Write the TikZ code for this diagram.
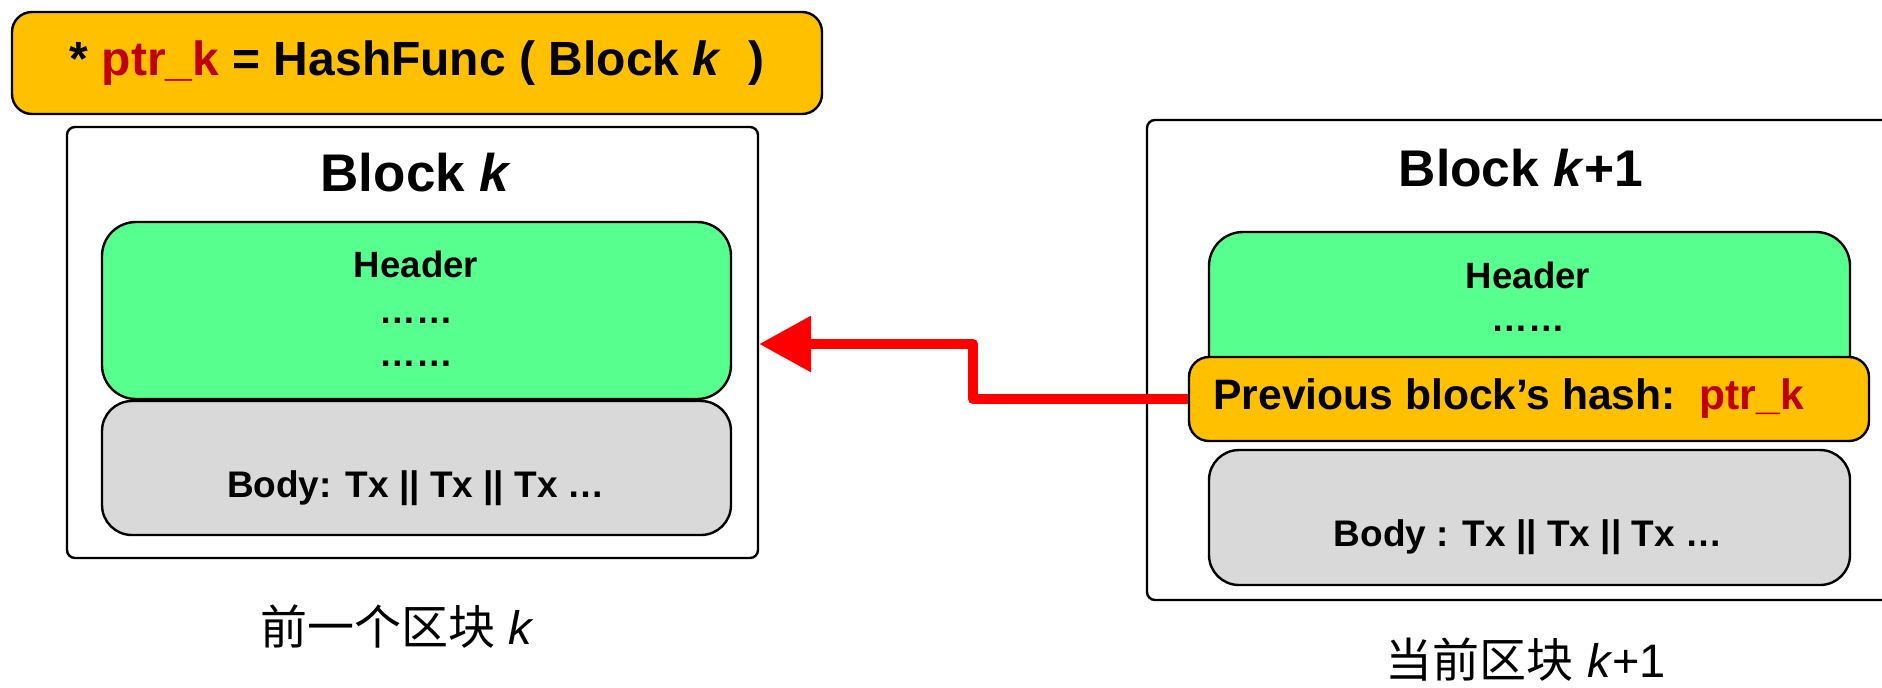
\documentclass[tikz,border=0pt]{standalone}
\usepackage{fontspec}
\setmainfont{Liberation Sans}
\newfontfamily\cjk{Noto Sans CJK SC}
\usetikzlibrary{fit,arrows.meta}
\definecolor{gold}{RGB}{255,192,0}
\definecolor{mint}{RGB}{87,255,143}
\definecolor{pale}{RGB}{217,217,217}
\definecolor{ptrred}{RGB}{192,0,0}
\definecolor{linkred}{RGB}{255,0,0}

\begin{document}
\begin{tikzpicture}[x=0.5pt,y=-0.5pt,
  frame/.style={draw=black, line width=1.2pt, rounded corners=4pt, inner sep=0pt, fill=white},
  hashbox/.style={draw=black, line width=1.2pt, rounded corners=10pt, inner sep=0pt, fill=gold},
  headbox/.style={draw=black, line width=1.2pt, rounded corners=17pt, inner sep=0pt, fill=mint},
  bodybox/.style={draw=black, line width=1.2pt, rounded corners=15pt, inner sep=0pt, fill=pale},
  txt/.style={inner sep=0pt, font=\bfseries},
  link/.style={draw=linkred, line width=5pt, line join=round, -{Triangle[length=26pt,width=27pt]}}
]
\path[clip] (0,0) rectangle (1882,687);
\fill[white] (0,0) rectangle (1882,687);

% hash formula
\node[hashbox, fit={(12,12)(822,114)}] (formula) {};
\node[txt, font=\bfseries\fontsize{24}{28}\selectfont] (formtext) at (417,63)
  {* \textcolor{ptrred}{ptr\_k} = HashFunc ( Block \textit{k}\ \ )};

% block k
\node[frame, fit={(67,127)(758,558)}] (blockk) {};
\node[txt, font=\bfseries\fontsize{26.5}{30}\selectfont] (titlek) at (416,173) {Block \textit{k}};
\node[headbox, fit={(102,222)(731,399)}] (headk) {};
\node[txt, font=\bfseries\fontsize{18.3}{21}\selectfont] (headktext) at (416,264) {Header};
\node[txt, font=\bfseries\fontsize{18.3}{21}\selectfont] (dotsk1) at (416,321) {……};
\node[txt, font=\bfseries\fontsize{18.3}{21}\selectfont] (dotsk2) at (416,364) {……};
\node[bodybox, fit={(102,401)(731,535)}] (bodyk) {};
\node[txt, font=\bfseries\fontsize{18.5}{22}\selectfont] (bodyktext) at (416,488) {Body: Tx || Tx || Tx …};
\node[inner sep=0pt, font=\fontsize{23.5}{27}\selectfont] (capk) at (397,627) {{\cjk 前一个区块} \textit{k}};

% block k+1
\node[frame, fit={(1147,120)(1895,600)}] (blockn) {};
\node[txt, font=\bfseries\fontsize{25.8}{30}\selectfont] (titlen) at (1521,168) {Block \textit{k}+1};
\node[headbox, fit={(1209,232)(1850,440)}] (headn) {};
\node[txt, font=\bfseries\fontsize{18.3}{21}\selectfont] (headntext) at (1528,275) {Header};
\node[txt, font=\bfseries\fontsize{18.3}{21}\selectfont] (dotsn) at (1528,329) {……};
\node[hashbox, fit={(1189,357)(1869,441)}] (prev) {};
\node[txt, anchor=west, font=\bfseries\fontsize{21.3}{25}\selectfont] (prevtext) at (1213,398)
  {Previous block’s hash:\ \ \textcolor{ptrred}{ptr\_k}};
\node[bodybox, fit={(1209,450)(1850,585)}] (bodyn) {};
\node[txt, font=\bfseries\fontsize{18.5}{22}\selectfont] (bodyntext) at (1528,537) {Body : Tx || Tx || Tx …};
\node[inner sep=0pt, font=\fontsize{23.5}{27}\selectfont] (capn) at (1526,660) {{\cjk 当前区块} \textit{k}+1};

% hash pointer back to block k
\coordinate (bend) at (973,344);
\draw[link] (prev.west) -| (bend) -- (bend -| blockk.east);
\end{tikzpicture}
\end{document}
